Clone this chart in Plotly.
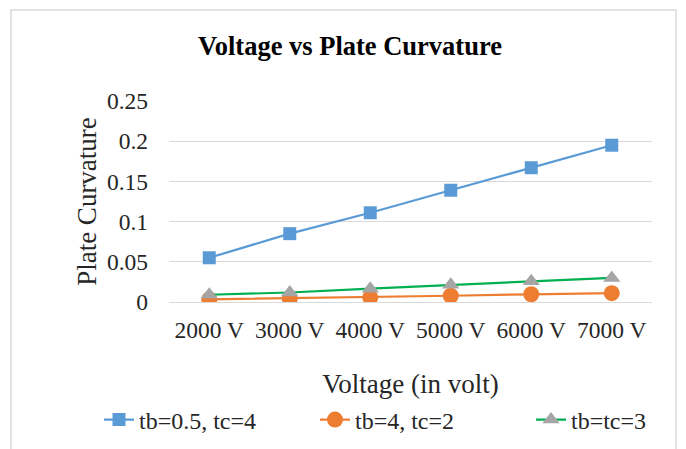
import plotly.graph_objects as go

categories = ["2000 V", "3000 V", "4000 V", "5000 V", "6000 V", "7000 V"]
s1_name = "tb=0.5, tc=4"
s1 = [0.055, 0.085, 0.111, 0.139, 0.167, 0.195]
s2_name = "tb=4, tc=2"
s2 = [0.0033, 0.0046, 0.0058, 0.0078, 0.0096, 0.011]
s3_name = "tb=tc=3"
s3 = [0.009, 0.0118, 0.0166, 0.0215, 0.0257, 0.030]
y_ticks = [0, 0.05, 0.1, 0.15, 0.2, 0.25]
y_ticktext = ["0", "0.05", "0.1", "0.15", "0.2", "0.25"]

FONT = "Liberation Serif, Times New Roman, serif"
TXT = "#262626"

W, H = 686, 449
L, R, T, B = 169, 652, 101, 302
PW, PH = R - L, B - T


def px(x):
    return (x - L) / PW


def py(y):
    return (B - y) / PH


fig = go.Figure()
fig.add_trace(go.Scatter(x=categories, y=s1, name=s1_name, mode="lines+markers",
                         line=dict(color="#5b9bd5", width=2.2),
                         marker=dict(symbol="square", size=13, color="#5b9bd5")))
fig.add_trace(go.Scatter(x=categories, y=s2, name=s2_name, mode="lines+markers",
                         line=dict(color="#ed7d31", width=2.2),
                         marker=dict(symbol="circle", size=16, color="#ed7d31")))
fig.add_trace(go.Scatter(x=categories, y=s3, name=s3_name, mode="lines+markers",
                         line=dict(color="#00b050", width=2.2),
                         marker=dict(symbol="triangle-up", size=15, color="#a5a5a5")))

fig.update_layout(
    width=W, height=H,
    margin=dict(l=L, r=W - R, t=T, b=H - B, autoexpand=False),
    paper_bgcolor="white", plot_bgcolor="white",
    font=dict(family=FONT, size=22, color=TXT),
    title=dict(text="<b>Voltage vs Plate Curvature</b>", x=350 / W, xanchor="center",
               xref="container", y=1 - 46 / H, yanchor="middle", yref="container",
               font=dict(family=FONT, size=26.5, color="black")),
    showlegend=True,
    legend=dict(orientation="h", x=px(99), xanchor="left", xref="paper",
                y=py(420), yanchor="middle", yref="paper",
                font=dict(family=FONT, size=24, color=TXT),
                entrywidth=171, entrywidthmode="pixels",
                tracegroupgap=0, bgcolor="rgba(0,0,0,0)"),
    xaxis=dict(type="category", range=[-0.5, 5.5], showgrid=False, showline=False,
               zeroline=False, ticks="", ticklabelstandoff=11, automargin=False,
               tickangle=0,
               tickfont=dict(family=FONT, size=23.5, color=TXT),
               title=dict(text="Voltage (in volt)", standoff=32,
                          font=dict(family=FONT, size=27, color=TXT))),
    yaxis=dict(range=[0, 0.25], tickvals=y_ticks, ticktext=y_ticktext,
               showgrid=True, gridcolor="#d9d9d9", gridwidth=1.3,
               zeroline=True, zerolinecolor="#d9d9d9", zerolinewidth=1.3,
               showline=False, ticks="", ticklabelstandoff=20, automargin=False,
               tickfont=dict(family=FONT, size=23.5, color=TXT),
               title=dict(text="Plate Curvature", standoff=2,
                          font=dict(family=FONT, size=27, color=TXT))),
)

# outer chart frame (left, top, right edges)
fig.add_shape(type="path", xref="paper", yref="paper",
              path=f"M {px(11)} {py(449)} L {px(11)} {py(10)} L {px(676)} {py(10)} L {px(676)} {py(449)}",
              line=dict(color="#d9d9d9", width=1.5), layer="below")

fig.write_html("out.html", config={"displayModeBar": False},
               post_script="document.body.style.margin='0';")
